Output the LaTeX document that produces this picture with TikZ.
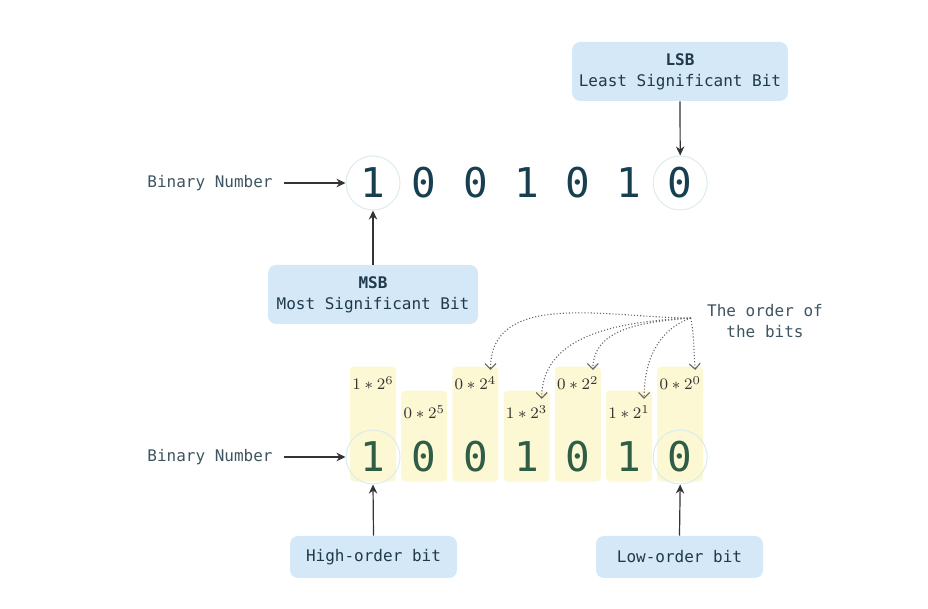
\documentclass[tikz,border=0pt]{standalone}
\usepackage{fontspec}
\setmonofont{DejaVu Sans Mono}
\usetikzlibrary{arrows.meta,positioning}
\definecolor{boxblue}{HTML}{D5E8F7}
\definecolor{boxtext}{HTML}{1E3A4C}
\definecolor{tagtext}{HTML}{3D5560}
\definecolor{topdigit}{HTML}{173F4F}
\definecolor{lowdigit}{HTML}{2F5D45}
\definecolor{ringcol}{HTML}{DCECEA}
\definecolor{colyellow}{HTML}{FCF8D4}
\definecolor{arrowcol}{HTML}{333333}
\definecolor{powertext}{HTML}{333333}

\begin{document}
\begin{tikzpicture}[x=0.5pt, y=-0.5pt,
    font=\ttfamily\fontsize{8}{10.5}\selectfont,
    >={Stealth[length=4.5pt,width=4.2pt]},
    box/.style={fill=boxblue, rounded corners=4pt, text=boxtext, align=center, minimum width=105pt, minimum height=29.5pt},
    lowbox/.style={box, minimum width=83.5pt, minimum height=21pt},
    tag/.style={text=tagtext, inner sep=3pt},
    digit/.style={font=\ttfamily\fontsize{20.5}{24}\selectfont, inner sep=0pt},
    ring/.style={circle, draw=ringcol, line width=0.5pt, minimum size=27pt},
    column/.style={fill=colyellow, rounded corners=2pt, minimum width=23pt},
    tall/.style={column, minimum height=57.5pt},
    short/.style={column, minimum height=45.5pt},
    power/.style={font=\fontsize{8.5}{10}\selectfont, text=powertext, inner sep=3pt},
    norm/.style={->, draw=arrowcol, line width=0.6pt},
    order/.style={-{Straight Barb[length=2.8pt,width=5.5pt]}, draw=black!60, densely dotted, line width=0.55pt}]

\useasboundingbox (0,0) rectangle (928,609);

% top: the plain number
\foreach \b [count=\i] in {1,0,0,1,0,1,0}
  \node [digit, text=topdigit] (t\i) at ({373+(\i-1)*51.2},183) {\b};
\node [ring] (tr1) at (t1) {};
\node [ring] (tr7) at (t7) {};
\node [tag] (tag1) at (210,183) {Binary Number};
\node [box] (lsb) at (680,71.5) {\textbf{LSB}\\Least Significant Bit};
\node [box] (msb) at (373,294.5) {\textbf{MSB}\\Most Significant Bit};
\draw [norm, shorten <=2.5pt] (tag1.east) -- (tr1.west);
\draw [norm] (lsb.south) -- (tr7.north);
\draw [norm] (msb.north) -- (tr1.south);

% bottom: the weights
\foreach \b/\kind/\ly [count=\i] in {1/tall/383,0/short/412,0/tall/383,1/short/412,0/tall/383,1/short/412,0/tall/383} {
  \pgfmathtruncatemacro{\e}{7-\i}
  \node [\kind, anchor=south] (c\i) at ({373+(\i-1)*51.2},482) {};
  \node [power] (p\i) at ({373+(\i-1)*51.2},\ly) {$\b*2^{\e}$};
  \node [digit, text=lowdigit] (b\i) at ({373+(\i-1)*51.2},457) {\b};
}
\node [ring] (br1) at (b1) {};
\node [ring] (br7) at (b7) {};
\node [tag] (tag2) at (210,457) {Binary Number};
\node [lowbox] (hob) at (373.5,557) {High-order bit};
\node [lowbox] (lob) at (679.5,557) {Low-order bit};
\draw [norm, shorten <=2.5pt] (tag2.east) -- (br1.west);
\draw [norm] (hob.north) -- (br1.south);
\draw [norm] (lob.north) -- (br7.south);

\node [tag, align=center] (ord) at (765,321) {The order of\\the bits};
\coordinate (src) at ([xshift=-5pt,yshift=1.5pt]ord.west);
\draw [order] (src) to[out=180,in=90] ([xshift=-6pt]p3.north east);
\draw [order] (src) to[out=183,in=90] ([xshift=-6pt]p4.north east);
\draw [order] (src) to[out=185,in=90] ([xshift=-6pt]p5.north east);
\draw [order] (src) to[out=200,in=90] ([xshift=-6pt]p6.north east);
\draw [order] (src) to[out=-80,in=95] ([xshift=-6pt]p7.north east);

\end{tikzpicture}
\end{document}
